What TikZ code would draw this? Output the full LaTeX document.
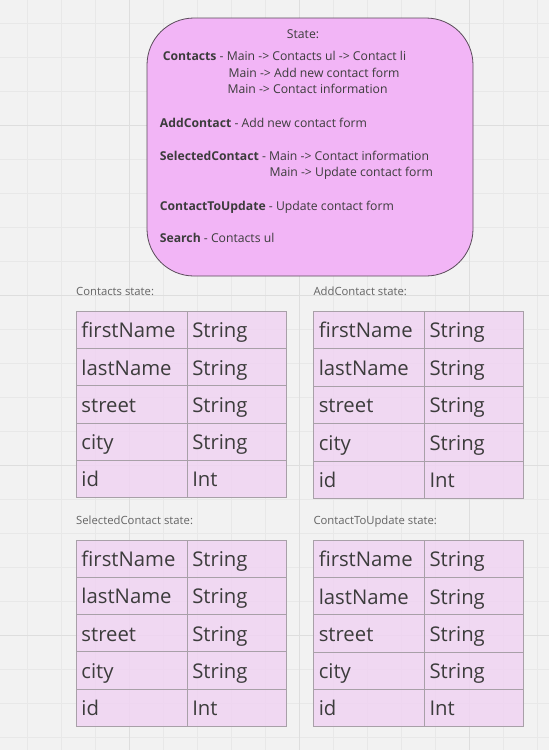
\documentclass[tikz,border=0pt]{standalone}
\usepackage{fontspec}
\setmainfont{Open Sans}
\definecolor{bgc}{RGB}{242,242,242}
\definecolor{gridminor}{RGB}{232,232,232}
\definecolor{gridmajor}{RGB}{222,222,222}
\definecolor{boxfill}{RGB}{242,181,246}
\definecolor{boxborder}{RGB}{90,75,90}
\definecolor{txt}{RGB}{60,60,60}
\definecolor{labeltxt}{RGB}{100,100,100}
\definecolor{cellfill}{RGB}{240,212,242}
\definecolor{cellborder}{RGB}{168,160,168}
\newcommand\mktable[4]{%
  \foreach \f/\t [count=\i from 0] in {firstName/String,lastName/String,street/String,city/String,id/Int} {
    \node[cellA, minimum height=#4] (#1-\i-a) at (#2, #3+\i*#4) {\f};
    \node[cellB, minimum height=#4] (#1-\i-b) at (#2+110.8, #3+\i*#4) {\t};
  }}
\begin{document}
\begin{tikzpicture}[x=1pt,y=-1pt,
  line/.style={anchor=base west, inner sep=0pt, text=txt, font=\fontsize{12.2}{14}\selectfont},
  lbl/.style={anchor=base west, inner sep=0pt, text=labeltxt, font=\fontsize{11.3}{13}\selectfont},
  cellbase/.style={anchor=north west, draw=cellborder, line width=0.9pt, fill=cellfill, fill opacity=0.85, text opacity=1,
    text=txt, font=\fontsize{20.3}{24}\selectfont, inner xsep=5pt, inner ysep=0pt, align=left,
    text height=19.7pt, text depth=4.1pt},
  cellA/.style={cellbase, text width=100.8pt},
  cellB/.style={cellbase, text width=89.2pt}]
\useasboundingbox (0,0) rectangle (549,750);
\fill[bgc] (0,0) rectangle (549,750);
\foreach \k in {-3,...,12} \draw[gridminor, line width=0.8pt] (129+34*\k,0) -- (129+34*\k,750);
\foreach \k in {-3,...,18} \draw[gridminor, line width=0.8pt] (0,125+34*\k) -- (549,125+34*\k);
\foreach \x in {129,299,469} \draw[gridmajor, line width=1pt] (\x,0) -- (\x,750);
\foreach \y in {125,295,465,635} \draw[gridmajor, line width=1pt] (0,\y) -- (549,\y);

\node[draw=boxborder, fill=boxfill, line width=0.8pt, rounded corners=47pt,
  minimum width=326pt, minimum height=258pt, inner sep=0pt] (state) at (310,147) {};
\node[line, anchor=base] (title) at (303,38.3) {State:};
\node[line] (l1) at (162.7,60) {\textbf{Contacts} - Main -> Contacts ul -> Contact li};
\node[line] (l2) at (228.3,77) {Main -> Add new contact form};
\node[line] (l3) at (227.3,93.6) {Main -> Contact information};
\node[line] (l4) at (159.7,127) {\textbf{AddContact} - Add new contact form};
\node[line] (l5) at (159.7,160) {\textbf{SelectedContact} - Main -> Contact information};
\node[line] (l6) at (269.3,176.6) {Main -> Update contact form};
\node[line] (l7) at (159.7,210) {\textbf{ContactToUpdate} - Update contact form};
\node[line] (l8) at (159.7,242.6) {\textbf{Search} - Contacts ul};

\node[lbl] (lab1) at (76,295) {Contacts state:};
\node[lbl] (lab2) at (313.3,295) {AddContact state:};
\node[lbl] (lab3) at (76,524) {SelectedContact state:};
\node[lbl] (lab4) at (313.3,524) {ContactToUpdate state:};

\mktable{ta}{76}{311}{37.2}
\mktable{tb}{313.3}{311}{37.4}
\mktable{tc}{76}{539.5}{37.3}
\mktable{td}{313.3}{540}{37.2}
\end{tikzpicture}
\end{document}
